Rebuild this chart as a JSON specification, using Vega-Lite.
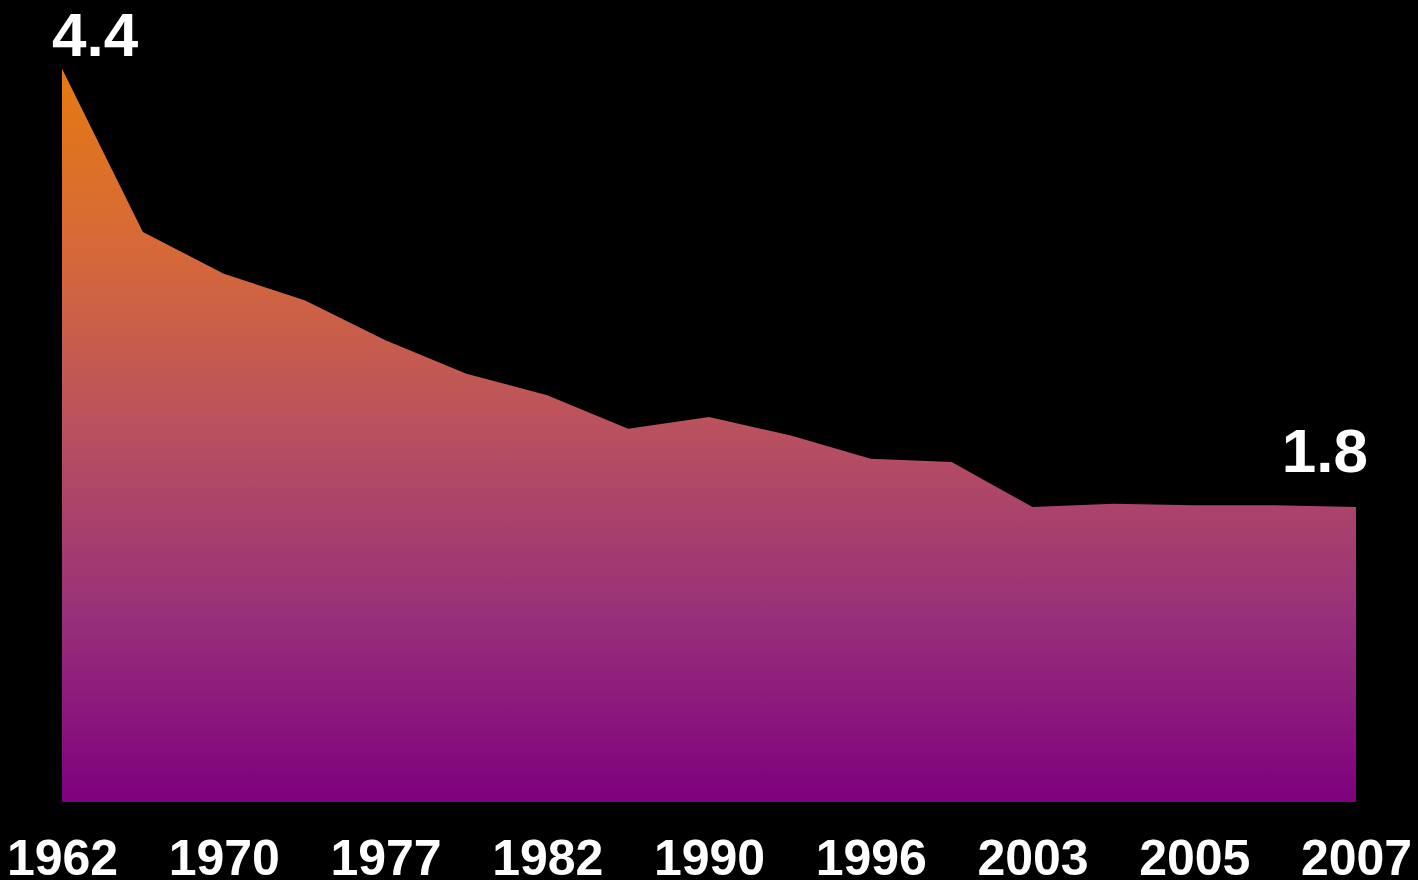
{
  "$schema": "https://vega.github.io/schema/vega-lite/v6.json",
  "width": 1294,
  "height": 800,
  "autosize": {"type": "none"},
  "padding": {"left": 62, "right": 62, "top": 2, "bottom": 78},
  "background": "#000000",
  "config": {"view": {"stroke": null}},
  "data": {"values": [
    {"year": "1962", "value": 4.40},
    {"year": "1966", "value": 3.42},
    {"year": "1970", "value": 3.17},
    {"year": "1973", "value": 3.01},
    {"year": "1977", "value": 2.77},
    {"year": "1980", "value": 2.57},
    {"year": "1982", "value": 2.44},
    {"year": "1986", "value": 2.24},
    {"year": "1990", "value": 2.31},
    {"year": "1993", "value": 2.20},
    {"year": "1996", "value": 2.06},
    {"year": "2000", "value": 2.04},
    {"year": "2003", "value": 1.77},
    {"year": "2004", "value": 1.79},
    {"year": "2005", "value": 1.78},
    {"year": "2006", "value": 1.78},
    {"year": "2007", "value": 1.77}
  ]},
  "encoding": {
    "x": {
      "field": "year", "type": "ordinal", "sort": null,
      "scale": {"type": "point", "padding": 0},
      "axis": {
        "title": null,
        "values": ["1962", "1970", "1977", "1982", "1990", "1996", "2003", "2005", "2007"],
        "domain": false, "ticks": false, "tickSize": 0, "grid": false,
        "labelAngle": 0,
        "labelFont": "Liberation Sans", "labelFontWeight": "bold", "labelFontSize": 50,
        "labelColor": "#FFFFFF", "labelBaseline": "alphabetic", "labelPadding": 72,
        "labelAlign": "center", "labelOverlap": false, "labelBound": false, "labelFlush": false
      }
    },
    "y": {
      "field": "value", "type": "quantitative",
      "scale": {"domain": [0, 4.8], "nice": false, "zero": true},
      "axis": null
    }
  },
  "layer": [
    {
      "mark": {
        "type": "area",
        "interpolate": "linear",
        "color": {
          "gradient": "linear", "x1": 0, "y1": 0, "x2": 0, "y2": 1,
          "stops": [
            {"offset": 0, "color": "#E57A12"},
            {"offset": 0.255, "color": "#D5683A"},
            {"offset": 0.5, "color": "#B85060"},
            {"offset": 0.745, "color": "#98307A"},
            {"offset": 1, "color": "#7E007E"}
          ]
        }
      }
    },
    {
      "transform": [{"filter": "datum.year == '1962'"}],
      "mark": {"type": "text", "align": "left", "baseline": "alphabetic", "dx": -10, "dy": -13,
               "font": "Liberation Sans", "fontWeight": "bold", "fontSize": 62, "color": "#FFFFFF"},
      "encoding": {"text": {"field": "value", "type": "quantitative", "format": ".1f"}}
    },
    {
      "transform": [{"filter": "datum.year == '2007'"}],
      "mark": {"type": "text", "align": "right", "baseline": "alphabetic", "dx": 12, "dy": -35,
               "font": "Liberation Sans", "fontWeight": "bold", "fontSize": 62, "color": "#FFFFFF"},
      "encoding": {"text": {"field": "value", "type": "quantitative", "format": ".1f"}}
    }
  ]
}
